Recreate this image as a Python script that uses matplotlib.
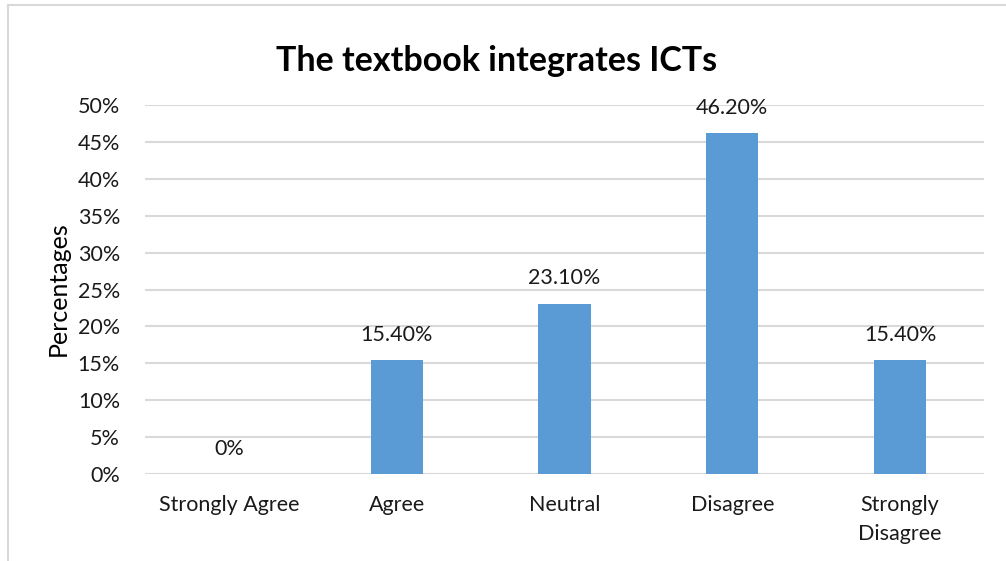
import matplotlib
matplotlib.use("Agg")
import matplotlib.pyplot as plt
from matplotlib.lines import Line2D

plt.rcParams['font.family'] = ['Lato', 'DejaVu Sans']

categories = ["Strongly Agree", "Agree", "Neutral", "Disagree", "Strongly\nDisagree"]
values = [0.0, 15.4, 23.1, 46.2, 15.4]
value_labels = ["0%", "15.40%", "23.10%", "46.20%", "15.40%"]
yticks = [0, 5, 10, 15, 20, 25, 30, 35, 40, 45, 50]
ytick_labels = [f"{t}%" for t in yticks]

W, H = 1006, 561
fig = plt.figure(figsize=(W / 100, H / 100), dpi=100)
fig.patch.set_facecolor("white")

# chart-area frame (left and top edges)
fig.add_artist(Line2D([7.5 / W, 7.5 / W], [0, 1 - 5 / H], transform=fig.transFigure,
                      color="#D9D9D9", lw=1.5))
fig.add_artist(Line2D([7.5 / W, 1], [1 - 5 / H, 1 - 5 / H], transform=fig.transFigure,
                      color="#D9D9D9", lw=1.5))

left, right = 145 / W, 984 / W
bottom, top = 1 - 474 / H, 1 - 105 / H
ax = fig.add_axes([left, bottom, right - left, top - bottom])

x = list(range(len(categories)))
ax.bar(x, values, width=0.31, color="#5B9BD5", zorder=3)
ax.set_xlim(-0.5, len(categories) - 0.5)
ax.set_ylim(0, 50)

fs = 15.5
ax.set_yticks(yticks)
ax.set_yticklabels(ytick_labels)
ax.set_xticks(x)
ax.set_xticklabels(categories, linespacing=1.55)
ax.tick_params(axis="both", length=0, labelsize=fs, colors="#1a1a1a")
ax.tick_params(axis="y", pad=18)
ax.tick_params(axis="x", pad=15)

ax.grid(axis="y", color="#D9D9D9", lw=1.5, zorder=0)
for s in ax.spines.values():
    s.set_visible(False)

for xi, v, lab in zip(x, values, value_labels):
    ax.annotate(lab, (xi, v), xytext=(0, 11), textcoords="offset points",
                ha="center", va="bottom", fontsize=fs, color="#1a1a1a")

ax.set_ylabel("Percentages", fontsize=18, color="#000000")
ax.yaxis.set_label_coords((70 - 145) / (984 - 145), 1 - (289 - 105) / (474 - 105))

fig.text(497 / W, 1 - 61 / H, "The textbook integrates ICTs",
         ha="center", va="center", fontsize=24.5, fontweight="bold", color="#000000")

fig.savefig("out.png", dpi=100)
